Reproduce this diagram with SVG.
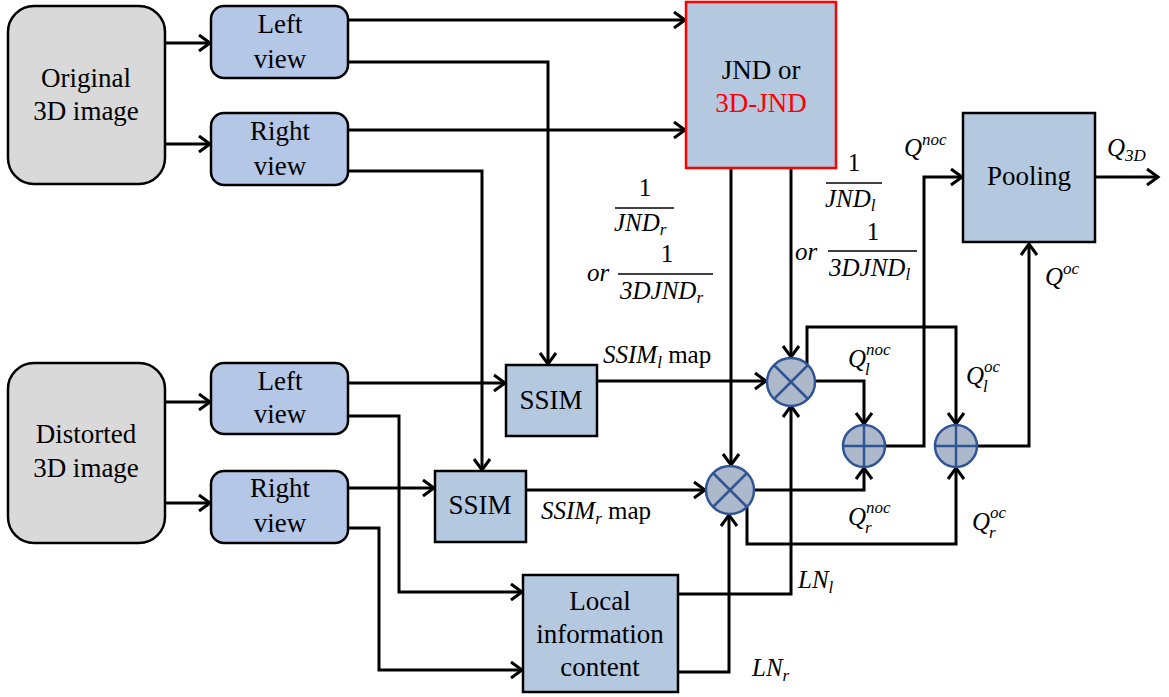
<svg xmlns="http://www.w3.org/2000/svg" width="1169" height="697" viewBox="0 0 1169 697" font-family="'Liberation Serif', 'Times New Roman', Times, 'DejaVu Serif', serif">
<style>
.t{font-size:27px;fill:#000;text-anchor:middle}
.m{font-style:italic;font-size:25px;fill:#000}
.n{font-size:25px;fill:#000;text-anchor:middle}
.s{font-size:17px}
.gray{fill:#d9d9d9;stroke:#000;stroke-width:2.5}
.blue{fill:#b4c7e7;stroke:#000;stroke-width:2.5}
.sq{fill:#b4c8e0;stroke:#000;stroke-width:2.5}
.op{fill:#adb9ca;stroke:#2f5597;stroke-width:2.5}
.opl{stroke:#2f5597;stroke-width:2.5;fill:none}
.c{fill:none;stroke:#000;stroke-width:3;marker-end:url(#ah)}
.bar{stroke:#000;stroke-width:1.5}
</style>
<defs>
<marker id="ah" markerUnits="userSpaceOnUse" markerWidth="20" markerHeight="20" refX="14" refY="10" orient="auto" overflow="visible">
<path d="M3,2 L14,10 L3,18" fill="none" stroke="#000" stroke-width="3"/>
</marker>
</defs>
<rect width="1169" height="697" fill="#fff"/>

<g id="connectors">
<path class="c" d="M165,43 H210"/>
<path class="c" d="M165,144 H210"/>
<path class="c" d="M348,20 H685"/>
<path class="c" d="M348,62 H548 V364"/>
<path class="c" d="M348,130 H685"/>
<path class="c" d="M348,171 H482 V470"/>
<path class="c" d="M165,402 H210"/>
<path class="c" d="M165,503 H210"/>
<path class="c" d="M348,383 H505"/>
<path class="c" d="M348,416 H399 V592 H522"/>
<path class="c" d="M348,488 H434"/>
<path class="c" d="M348,528 H379 V670 H522"/>
<path class="c" d="M731,168 V465"/>
<path class="c" d="M791,168 V357"/>
<path class="c" d="M597,381 H766"/>
<path class="c" d="M526,490 H705"/>
<path class="c" d="M815,381 H864 V424"/>
<path class="c" d="M807,365 V327 H956 V424"/>
<path class="c" d="M754,490 H864 V468"/>
<path class="c" d="M747,507 V544 H956 V468"/>
<path class="c" d="M885,446 H924 V177 H962"/>
<path class="c" d="M977,446 H1029 V244"/>
<path class="c" d="M1095,177 H1158"/>
<path class="c" d="M678,594 H791 V406"/>
<path class="c" d="M678,672 H729 V515"/>
</g>

<g id="orig">
<rect class="gray" x="8" y="6" width="157" height="178" rx="26"/>
<text class="t" x="86" y="87">Original</text>
<text class="t" x="86" y="120">3D image</text>
</g>
<g id="left-top">
<rect class="blue" x="211" y="6" width="137" height="72" rx="13"/>
<text class="t" x="280" y="33">Left</text>
<text class="t" x="280" y="68">view</text>
</g>
<g id="right-top">
<rect class="blue" x="211" y="113" width="137" height="72" rx="13"/>
<text class="t" x="280" y="140">Right</text>
<text class="t" x="280" y="175">view</text>
</g>
<g id="dist">
<rect class="gray" x="8" y="363" width="157" height="180" rx="26"/>
<text class="t" x="86" y="443">Distorted</text>
<text class="t" x="86" y="477">3D image</text>
</g>
<g id="left-bot">
<rect class="blue" x="211" y="363" width="137" height="71" rx="13"/>
<text class="t" x="280" y="390">Left</text>
<text class="t" x="280" y="423">view</text>
</g>
<g id="right-bot">
<rect class="blue" x="211" y="471" width="137" height="72" rx="13"/>
<text class="t" x="280" y="497">Right</text>
<text class="t" x="280" y="532">view</text>
</g>
<g id="jnd">
<rect x="686" y="2" width="150" height="166" fill="#b4c8e0" stroke="#ff0000" stroke-width="2.5"/>
<text class="t" x="761" y="79">JND or</text>
<text class="t" x="761" y="112" style="fill:#ff0000">3D-JND</text>
</g>
<g id="ssim1">
<rect class="sq" x="506" y="365" width="91" height="71"/>
<text class="t" x="551" y="409">SSIM</text>
</g>
<g id="ssim2">
<rect class="sq" x="435" y="471" width="91" height="71"/>
<text class="t" x="480" y="514">SSIM</text>
</g>
<g id="local">
<rect class="sq" x="523" y="575" width="155" height="117"/>
<text class="t" x="600" y="610">Local</text>
<text class="t" x="600" y="643">information</text>
<text class="t" x="600" y="676">content</text>
</g>
<g id="pooling">
<rect class="sq" x="963" y="113" width="132" height="129"/>
<text class="t" x="1029" y="185">Pooling</text>
</g>

<g id="mul-top">
<circle class="op" cx="791" cy="382" r="24"/>
<path class="opl" d="M774,365 L808,399 M808,365 L774,399"/>
</g>
<g id="mul-bot">
<circle class="op" cx="730" cy="490" r="24"/>
<path class="opl" d="M713,473 L747,507 M747,473 L713,507"/>
</g>
<g id="add-1">
<circle class="op" cx="864" cy="446" r="21"/>
<path class="opl" d="M843,446 H885 M864,425 V467"/>
</g>
<g id="add-2">
<circle class="op" cx="956" cy="446" r="21"/>
<path class="opl" d="M935,446 H977 M956,425 V467"/>
</g>

<g id="labels">
<text class="n" x="645" y="196">1</text>
<line class="bar" x1="615" y1="208" x2="674" y2="208"/>
<text class="m" x="614" y="231">JND<tspan class="s" dy="4">r</tspan></text>
<text class="n" x="667" y="262">1</text>
<text class="m" x="587" y="281">or</text>
<line class="bar" x1="618" y1="274" x2="713" y2="274"/>
<text class="m" x="620" y="299">3DJND<tspan class="s" dy="4">r</tspan></text>

<text class="n" x="854" y="171">1</text>
<line class="bar" x1="826" y1="183" x2="882" y2="183"/>
<text class="m" x="825" y="207">JND<tspan class="s" dy="4">l</tspan></text>
<text class="n" x="873" y="240">1</text>
<text class="m" x="795" y="260">or</text>
<line class="bar" x1="828" y1="251" x2="917" y2="251"/>
<text class="m" x="829" y="276">3DJND<tspan class="s" dy="4">l</tspan></text>

<text class="m" x="603" y="363">SSIM<tspan class="s" dy="5">l</tspan><tspan dy="-5" font-style="normal"> map</tspan></text>
<text class="m" x="541" y="519">SSIM<tspan class="s" dy="5">r</tspan><tspan dy="-5" font-style="normal"> map</tspan></text>

<text class="m" x="848" y="367">Q<tspan class="s" dy="-12">noc</tspan></text>
<text class="m s" x="865" y="375">l</text>
<text class="m" x="966" y="384">Q<tspan class="s" dy="-12">oc</tspan></text>
<text class="m s" x="983" y="392">l</text>
<text class="m" x="848" y="525">Q<tspan class="s" dy="-12">noc</tspan></text>
<text class="m s" x="865" y="533">r</text>
<text class="m" x="972" y="530">Q<tspan class="s" dy="-12">oc</tspan></text>
<text class="m s" x="989" y="538">r</text>

<text class="m" x="904" y="156">Q<tspan class="s" dy="-11">noc</tspan></text>
<text class="m" x="1107" y="156">Q<tspan class="s" dy="5">3D</tspan></text>
<text class="m" x="1045" y="285">Q<tspan class="s" dy="-11">oc</tspan></text>

<text class="m" x="798" y="588">LN<tspan class="s" dy="5">l</tspan></text>
<text class="m" x="752" y="676">LN<tspan class="s" dy="5">r</tspan></text>
</g>
</svg>
